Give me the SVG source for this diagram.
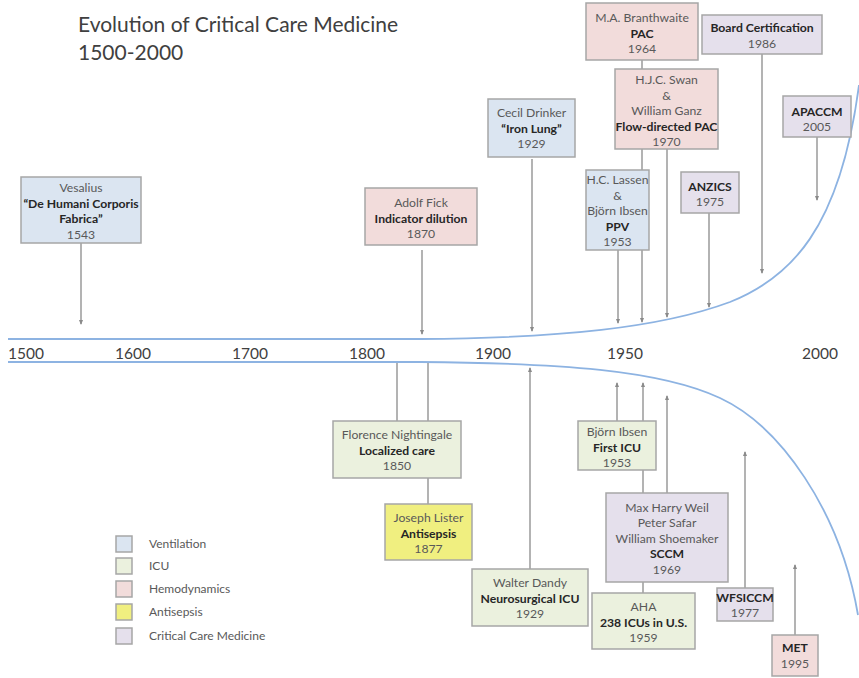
<svg xmlns="http://www.w3.org/2000/svg" width="859" height="678" viewBox="0 0 859 678">
<style>
text{font-family:Lato,"Liberation Sans",sans-serif;text-anchor:middle;fill:#595959;font-size:12.2px}
.b{font-weight:bold;fill:#262626}
.title{font-size:21px;text-anchor:start;fill:#404040}
.yr{font-size:15.5px;fill:#404040}
.lg{font-size:12px;text-anchor:start}
.box{stroke:#a6a6a6;stroke-width:1.5}
.vent{fill:#dbe5f1}.icu{fill:#ebf1de}.hemo{fill:#f2dcdb}.anti{fill:#f0ef80}.ccm{fill:#e5e0ec}
.tl{fill:none;stroke:#8db3e2;stroke-width:1.8}
.c{fill:none;stroke:#9a9a9a;stroke-width:1.5}
.a{marker-end:url(#ah)}
</style>
<defs>
<marker id="ah" markerUnits="userSpaceOnUse" markerWidth="5" markerHeight="4" refX="4" refY="2" orient="auto">
<path d="M0,0 L5,2 L0,4 z" fill="#8a8a8a"/>
</marker>
</defs>
<rect width="859" height="678" fill="#ffffff"/>
<text class="title" x="78" y="32">Evolution of Critical Care Medicine</text>
<text class="title" x="78" y="60">1500-2000</text>

<g id="timeline">
<path class="tl" d="M8,339 L420,339 C560,338 660,328 730,302 C790,278 840,230 859,85"/>
<path class="tl" d="M8,362 L420,362 C560,363 660,370 720,398 C780,426 840,510 858,615"/>
<text class="yr" x="26" y="359">1500</text>
<text class="yr" x="133" y="359">1600</text>
<text class="yr" x="250" y="359">1700</text>
<text class="yr" x="367" y="359">1800</text>
<text class="yr" x="493" y="359">1900</text>
<text class="yr" x="625" y="359">1950</text>
<text class="yr" x="820" y="359">2000</text>
</g>

<g id="connectors">
<path class="c a" d="M81,243 V324"/>
<path class="c a" d="M422,250 V334"/>
<path class="c a" d="M532,159 V331"/>
<path class="c a" d="M642,60 V322"/>
<path class="c a" d="M667,149 V317"/>
<path class="c a" d="M618,250 V323"/>
<path class="c a" d="M762,54 V273"/>
<path class="c a" d="M709,213 V307"/>
<path class="c a" d="M817,137 V200"/>
<path class="c" d="M397,363 V421"/>
<path class="c" d="M428,363 V504"/>
<path class="c a" d="M530,569 V368"/>
<path class="c a" d="M617,421 V383"/>
<path class="c a" d="M643,593 V383"/>
<path class="c a" d="M667,493 V396"/>
<path class="c a" d="M745,588 V452"/>
<path class="c a" d="M795,635 V565"/>
</g>

<g id="vesalius">
<rect class="box vent" x="21" y="177" width="120" height="66"/>
<text x="81" y="192">Vesalius</text>
<text class="b" x="81" y="207.5">“De Humani Corporis</text>
<text class="b" x="81" y="223">Fabrica”</text>
<text x="81" y="238.5">1543</text>
</g>
<g id="fick">
<rect class="box hemo" x="365" y="188" width="112" height="57"/>
<text x="421" y="207">Adolf Fick</text>
<text class="b" x="421" y="222.5">Indicator dilution</text>
<text x="421" y="238">1870</text>
</g>
<g id="drinker">
<rect class="box vent" x="488" y="99" width="87" height="58"/>
<text x="531.5" y="117">Cecil Drinker</text>
<text class="b" x="531.5" y="132.5">“Iron Lung”</text>
<text x="531.5" y="148">1929</text>
</g>
<g id="branthwaite">
<rect class="box hemo" x="586" y="3" width="112" height="57"/>
<text x="642" y="22">M.A. Branthwaite</text>
<text class="b" x="642" y="37.5">PAC</text>
<text x="642" y="53">1964</text>
</g>
<g id="swan">
<rect class="box hemo" x="615" y="69" width="103" height="80"/>
<text x="666.5" y="84">H.J.C. Swan</text>
<text x="666.5" y="99.5">&amp;</text>
<text x="666.5" y="115">William Ganz</text>
<text class="b" x="666.5" y="130.5">Flow-directed PAC</text>
<text x="666.5" y="146">1970</text>
</g>
<g id="lassen">
<rect class="box vent" x="586" y="170" width="63" height="80"/>
<text x="617.5" y="184">H.C. Lassen</text>
<text x="617.5" y="199.5">&amp;</text>
<text x="617.5" y="215">Björn Ibsen</text>
<text class="b" x="617.5" y="230.5">PPV</text>
<text x="617.5" y="246">1953</text>
</g>
<g id="board">
<rect class="box ccm" x="702" y="15" width="120" height="39"/>
<text class="b" x="762" y="32">Board Certification</text>
<text x="762" y="48">1986</text>
</g>
<g id="anzics">
<rect class="box ccm" x="681" y="172" width="58" height="41"/>
<text class="b" x="710" y="190.5">ANZICS</text>
<text x="710" y="206">1975</text>
</g>
<g id="apaccm">
<rect class="box ccm" x="783" y="96" width="68" height="41"/>
<text class="b" x="817" y="115.5">APACCM</text>
<text x="817" y="131">2005</text>
</g>

<g id="nightingale">
<rect class="box icu" x="333" y="421" width="128" height="57"/>
<text x="397" y="439">Florence Nightingale</text>
<text class="b" x="397" y="454.5">Localized care</text>
<text x="397" y="470">1850</text>
</g>
<g id="lister">
<rect class="box anti" x="385" y="504" width="87" height="56"/>
<text x="428.5" y="522">Joseph Lister</text>
<text class="b" x="428.5" y="537.5">Antisepsis</text>
<text x="428.5" y="553">1877</text>
</g>
<g id="dandy">
<rect class="box icu" x="472" y="569" width="116" height="57"/>
<text x="530" y="587">Walter Dandy</text>
<text class="b" x="530" y="602.5">Neurosurgical ICU</text>
<text x="530" y="618">1929</text>
</g>
<g id="ibsen">
<rect class="box icu" x="578" y="421" width="78" height="49"/>
<text x="617" y="436">Björn Ibsen</text>
<text class="b" x="617" y="451.5">First ICU</text>
<text x="617" y="466.5">1953</text>
</g>
<g id="sccm">
<rect class="box ccm" x="606" y="493" width="122" height="89"/>
<text x="667" y="512">Max Harry Weil</text>
<text x="667" y="527">Peter Safar</text>
<text x="667" y="542.5">William Shoemaker</text>
<text class="b" x="667" y="558">SCCM</text>
<text x="667" y="573.5">1969</text>
</g>
<g id="aha">
<rect class="box icu" x="592" y="593" width="103" height="56"/>
<text x="643.5" y="611">AHA</text>
<text class="b" x="643.5" y="626.5">238 ICUs in U.S.</text>
<text x="643.5" y="642">1959</text>
</g>
<g id="wfsiccm">
<rect class="box ccm" x="717" y="588" width="56" height="33"/>
<text class="b" x="745" y="602">WFSICCM</text>
<text x="745" y="617">1977</text>
</g>
<g id="met">
<rect class="box hemo" x="772" y="635" width="46" height="41"/>
<text class="b" x="795" y="652">MET</text>
<text x="795" y="668">1995</text>
</g>

<g id="legend">
<rect class="box vent" x="116" y="536" width="16" height="16"/>
<text class="lg" x="149" y="548">Ventilation</text>
<rect class="box icu" x="116" y="558" width="16" height="16"/>
<text class="lg" x="149" y="570">ICU</text>
<rect class="box hemo" x="116" y="581" width="16" height="16"/>
<text class="lg" x="149" y="593">Hemodynamics</text>
<rect class="box anti" x="116" y="604" width="16" height="16"/>
<text class="lg" x="149" y="616">Antisepsis</text>
<rect class="box ccm" x="116" y="628" width="16" height="16"/>
<text class="lg" x="149" y="640">Critical Care Medicine</text>
</g>
</svg>
